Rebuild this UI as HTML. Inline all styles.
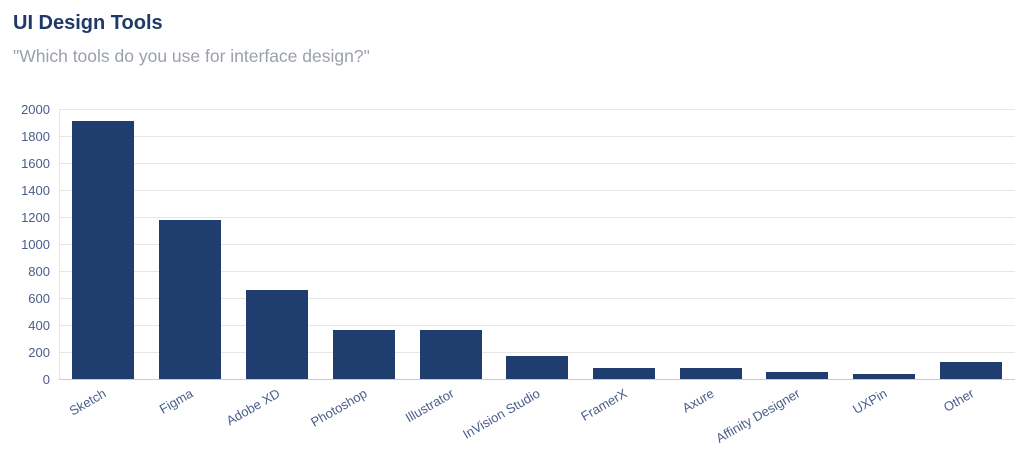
<!DOCTYPE html>
<html><head><meta charset="utf-8"><style>
body{margin:0;background:#fff;width:1024px;height:457px;overflow:hidden;font-family:"Liberation Sans",sans-serif}
</style></head><body>
<svg width="1024" height="457" xmlns="http://www.w3.org/2000/svg" font-family="Liberation Sans, sans-serif">
<text x="13" y="29" font-size="20" font-weight="bold" fill="#1f3a68">UI Design Tools</text>
<text x="13" y="62" font-size="17.5" fill="#9aa0ad">"Which tools do you use for interface design?"</text>
<g stroke="#e6e6e6" stroke-width="1">
<line x1="59" x2="1015" y1="109.5" y2="109.5"/><line x1="59" x2="1015" y1="136.5" y2="136.5"/>
<line x1="59" x2="1015" y1="163.5" y2="163.5"/><line x1="59" x2="1015" y1="190.5" y2="190.5"/>
<line x1="59" x2="1015" y1="217.5" y2="217.5"/><line x1="59" x2="1015" y1="244.5" y2="244.5"/>
<line x1="59" x2="1015" y1="271.5" y2="271.5"/><line x1="59" x2="1015" y1="298.5" y2="298.5"/>
<line x1="59" x2="1015" y1="325.5" y2="325.5"/><line x1="59" x2="1015" y1="352.5" y2="352.5"/>
<line x1="59.5" x2="59.5" y1="109" y2="379"/>
</g>
<g font-size="13" fill="#4a5d8a" text-anchor="end">
<text x="50" y="114">2000</text><text x="50" y="141">1800</text><text x="50" y="168">1600</text>
<text x="50" y="195">1400</text><text x="50" y="222">1200</text><text x="50" y="249">1000</text>
<text x="50" y="276">800</text><text x="50" y="303">600</text><text x="50" y="330">400</text>
<text x="50" y="357">200</text><text x="50" y="384">0</text>
</g>
<g fill="#1f3d6e">
<rect x="72" y="121" width="62" height="258"/>
<rect x="159" y="220" width="62" height="159"/>
<rect x="246" y="290" width="62" height="89"/>
<rect x="333" y="330" width="62" height="49"/>
<rect x="420" y="330" width="62" height="49"/>
<rect x="506" y="356" width="62" height="23"/>
<rect x="593" y="368" width="62" height="11"/>
<rect x="680" y="368" width="62" height="11"/>
<rect x="766" y="372" width="62" height="7"/>
<rect x="853" y="374" width="62" height="5"/>
<rect x="940" y="362" width="62" height="17"/>
</g>
<line x1="59" x2="1015" y1="379.5" y2="379.5" stroke="#c8ccd4"/>
<g font-size="13" fill="#4a5d8a" text-anchor="end">
<text transform="translate(107,396) rotate(-30)">Sketch</text>
<text transform="translate(194,396) rotate(-30)">Figma</text>
<text transform="translate(281,396) rotate(-30)">Adobe XD</text>
<text transform="translate(368,396) rotate(-30)">Photoshop</text>
<text transform="translate(455,396) rotate(-30)">Illustrator</text>
<text transform="translate(541,396) rotate(-30)">InVision Studio</text>
<text transform="translate(628,396) rotate(-30)">FramerX</text>
<text transform="translate(715,396) rotate(-30)">Axure</text>
<text transform="translate(801,396) rotate(-30)">Affinity Designer</text>
<text transform="translate(888,396) rotate(-30)">UXPin</text>
<text transform="translate(975,396) rotate(-30)">Other</text>
</g>
</svg>
</body></html>
